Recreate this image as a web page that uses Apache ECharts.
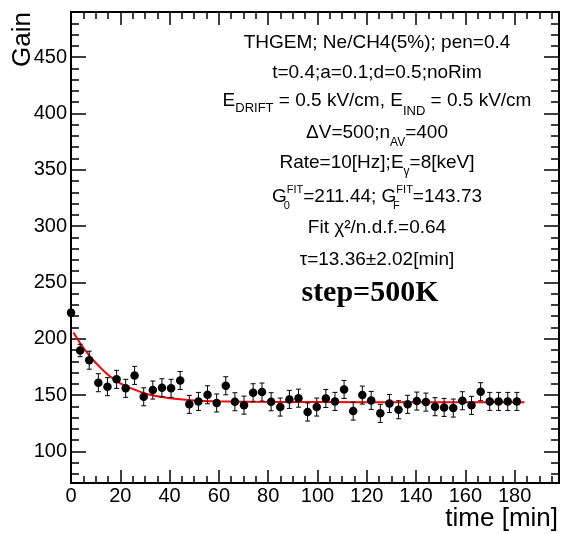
<!DOCTYPE html>
<html>
<head>
<meta charset="utf-8">
<script src="https://cdn.jsdelivr.net/npm/echarts@6/dist/echarts.min.js"></script>
<style>
html, body { margin: 0; padding: 0; background: #fff; }
#main { width: 564px; height: 534px; }
</style>
</head>
<body>
<div id="main"></div>
<script>
// measured points: time [min], gain, error
var time = [0, 3.7, 7.4, 11.1, 14.8, 18.5, 22.2, 25.8, 29.5, 33.2,
	36.9, 40.6, 44.3, 48.0, 51.7, 55.4, 59.1, 62.8, 66.5, 70.2,
	73.9, 77.5, 81.2, 84.9, 88.6, 92.3, 96.0, 99.7, 103.4, 107.1,
	110.8, 114.5, 118.2, 121.8, 125.5, 129.2, 132.9, 136.6, 140.3, 144.0,
	147.7, 151.4, 155.1, 158.8, 162.5, 166.2, 169.9, 173.5, 177.2, 180.9];
var gain = [223, 189.6, 181, 161, 157.5, 164, 156, 167.5, 148.5, 154.5,
	156.5, 156, 163, 141.8, 144.4, 150.3, 143, 158.3, 144.1, 141.1,
	152.1, 152.7, 144.1, 139.4, 146.2, 147.3, 135, 139.4, 147, 144.4,
	155, 135.8, 150, 145.3, 133.8, 142.6, 137, 141.8, 144.7, 143.8,
	139.7, 139.1, 138.5, 145, 140.9, 153, 144.4, 144.4, 144.4, 144.4];
var gainErr = [3, 5.5, 8, 8, 8, 8, 8, 8, 8, 8,
	8, 8, 8, 8, 8, 8, 8, 8, 8, 8,
	8, 8, 8, 8, 8, 8, 8, 8, 8, 8,
	8, 8, 8, 8, 8, 8, 8, 8, 8, 8,
	8, 8, 8, 8, 8, 8, 8, 8, 8, 8];

// fit curve
var fitTime = [1, 3, 5, 8, 11, 15, 20, 25, 30, 35, 40, 50, 60, 75, 100, 140, 184];
var fitGain = [205.5, 198.5, 192, 183.5, 176.5, 168, 160.5, 155.5, 151.5, 149, 147.3, 145.3, 144.5, 144, 143.8, 143.7, 143.7];

// ticks
var xTicks = [0, 20, 40, 60, 80, 100, 120, 140, 160, 180];
var xMinor = [5, 10, 15, 25, 30, 35, 45, 50, 55, 65, 70, 75, 85, 90, 95, 105, 110, 115,
	125, 130, 135, 145, 150, 155, 165, 170, 175, 185, 190, 195];
var yTicks = [100, 150, 200, 250, 300, 350, 400, 450];
var yMinor = [80, 90, 110, 120, 130, 140, 160, 170, 180, 190, 210, 220, 230, 240,
	260, 270, 280, 290, 310, 320, 330, 340, 360, 370, 380, 390, 410, 420, 430, 440,
	460, 470, 480];

var xMin = 0, xMax = 198;
var yMin = 72, yMax = 490;

var myChart = echarts.init(document.getElementById('main'));

var sans = '"Liberation Sans", Arial, sans-serif';

function makeAxis(isX, pos, ticks, len, withLabel) {
	return {
		type: 'value',
		position: pos,
		min: isX ? xMin : yMin,
		max: isX ? xMax : yMax,
		axisLine: { show: true, onZero: false, lineStyle: { color: '#000', width: 2 } },
		axisTick: { show: true, inside: true, length: len, customValues: ticks, lineStyle: { color: '#000', width: 1.5 } },
		axisLabel: withLabel ? {
			show: true,
			customValues: ticks,
			color: '#000',
			fontSize: 20,
			fontFamily: sans,
			margin: isX ? 3 : 4
		} : { show: false },
		splitLine: { show: false }
	};
}

function f(size) {
	return size + 'px ' + sans;
}

function infoLine(y, text, rich) {
	return {
		type: 'text',
		x: 377,
		y: y,
		style: {
			text: text,
			rich: rich,
			font: f(19),
			fill: '#000',
			align: 'center',
			verticalAlign: 'middle'
		}
	};
}

var errData = [], ptData = [], fitData = [];
for (var i = 0; i < time.length; i++) {
	errData.push([time[i], gain[i], gainErr[i]]);
	ptData.push([time[i], gain[i]]);
}
for (var j = 0; j < fitTime.length; j++) {
	fitData.push([fitTime[j], fitGain[j]]);
}

var option = {
	animation: false,
	grid: { left: 71, right: 5, top: 12, bottom: 51, outerBoundsMode: 'none' },
	xAxis: [
		makeAxis(true, 'bottom', xTicks, 13, true),
		makeAxis(true, 'bottom', xMinor, 7, false),
		makeAxis(true, 'top', xTicks, 13, false),
		makeAxis(true, 'top', xMinor, 7, false)
	],
	yAxis: [
		makeAxis(false, 'left', yTicks, 15, true),
		makeAxis(false, 'left', yMinor, 8, false),
		makeAxis(false, 'right', yTicks, 15, false),
		makeAxis(false, 'right', yMinor, 8, false)
	],
	graphic: [
		{
			type: 'text', x: 23, y: 12, rotation: Math.PI / 2,
			style: { text: 'Gain', font: f(26), fill: '#000', align: 'right', verticalAlign: 'middle' }
		},
		{
			type: 'text', x: 558, y: 519,
			style: { text: 'time [min]', font: f(26), fill: '#000', align: 'right', verticalAlign: 'middle' }
		},
		infoLine(42.7, 'THGEM; Ne/CH4(5%); pen=0.4'),
		infoLine(72.7, 't=0.4;a=0.1;d=0.5;noRim'),
		infoLine(100.7, 'E{d|DRIFT} = 0.5 kV/cm, E{i|IND} = 0.5 kV/cm', {
			d: { font: f(13), padding: [16, 0, 0, 0] },
			i: { font: f(13), padding: [21, 0, 0, 0] }
		}),
		infoLine(132.4, '\u0394V=500;n{s|AV}=400', {
			s: { font: f(12), padding: [20, 0, 0, 0] }
		}),
		infoLine(162.4, 'Rate=10[Hz];E{s|\u03b3}=8[keV]', {
			s: { font: f(12), padding: [18, 0, 0, 0] }
		}),
		infoLine(196.7, 'G{s|0}{p|FIT}=211.44; G{s|F}{p|FIT}=143.73', {
			s: { font: f(11), width: 0, padding: [18, 0, 0, 0] },
			p: { font: f(11), padding: [0, 0, 13, 0] }
		}),
		infoLine(227.4, 'Fit \u03c7\u00b2/n.d.f.=0.64'),
		infoLine(259.4, '\u03c4=13.36\u00b12.02[min]'),
		{
			type: 'text', x: 370, y: 293.2,
			style: {
				text: 'step=500K',
				font: 'bold 30px "Liberation Serif", "Times New Roman", serif',
				fill: '#000', align: 'center', verticalAlign: 'middle'
			}
		}
	],
	series: [
		{
			type: 'line',
			data: fitData,
			smooth: 0.3,
			symbol: 'none',
			lineStyle: { color: '#ff0000', width: 2 },
			z: 3
		},
		{
			type: 'custom',
			data: errData,
			encode: { x: 0, y: 1 },
			renderItem: function (params, api) {
				var x = api.value(0), y = api.value(1), e = api.value(2);
				var top = api.coord([x, y + e]);
				var bot = api.coord([x, y - e]);
				var st = { stroke: '#000', lineWidth: 1 };
				return {
					type: 'group',
					children: [
						{ type: 'line', shape: { x1: top[0], y1: top[1], x2: bot[0], y2: bot[1] }, style: st },
						{ type: 'line', shape: { x1: top[0] - 2.5, y1: top[1], x2: top[0] + 2.5, y2: top[1] }, style: st },
						{ type: 'line', shape: { x1: bot[0] - 2.5, y1: bot[1], x2: bot[0] + 2.5, y2: bot[1] }, style: st }
					]
				};
			},
			z: 4
		},
		{
			type: 'scatter',
			data: ptData,
			symbol: 'circle',
			symbolSize: 8.5,
			itemStyle: { color: '#000', opacity: 1 },
			z: 5
		}
	]
};

myChart.setOption(option);
</script>
</body>
</html>
